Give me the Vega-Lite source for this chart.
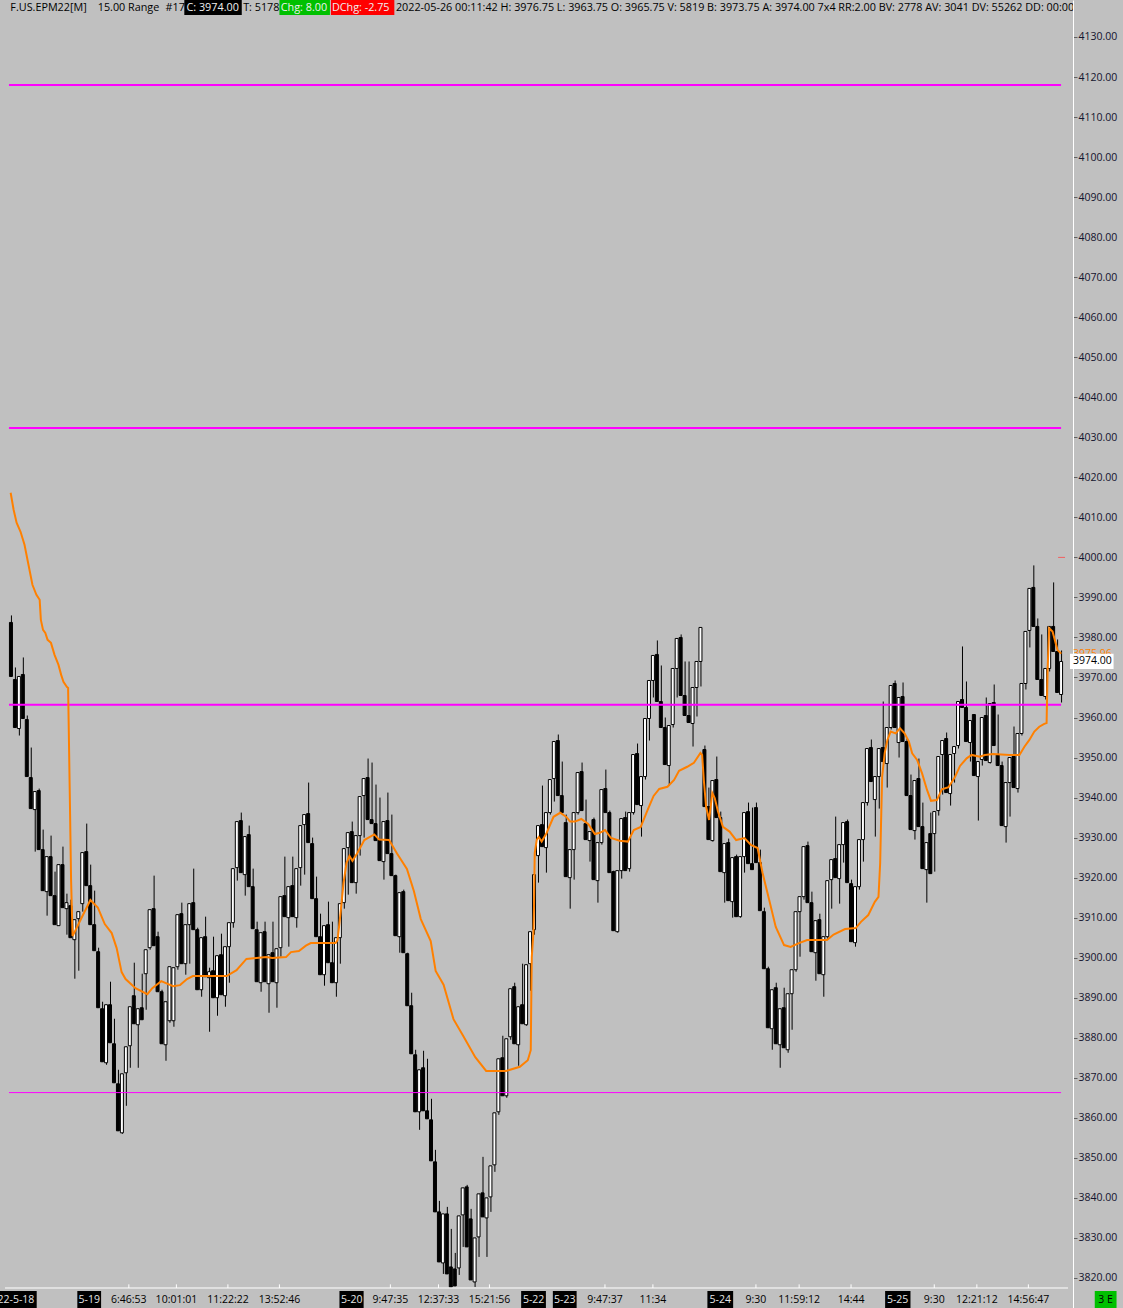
{
  "$schema": "https://vega.github.io/schema/vega-lite/v6.json",
  "width": 1073,
  "height": 1308,
  "autosize": {"type": "none"},
  "padding": {"left": 0, "top": 0, "right": 50, "bottom": 0},
  "background": "#c0c0c0",
  "config": {
    "view": {"stroke": null},
    "axisY": {
      "tickCount": 32, "grid": false, "labelFont": "Open Sans", "labelFontSize": 10.5, "labelColor": "#14142e",
      "labelPadding": 1, "tickSize": 4, "tickColor": "#606060", "domainColor": "#ffffff", "domainWidth": 1,
      "labelOverlap": false, "labelBound": false, "labelAlign": "left", "labelBaseline": "middle"
    }
  },
  "datasets": {
    "bars": [
      {"i":0,"o":3983.75,"h":3985.5,"l":3970.25,"c":3970.25},
      {"i":1,"o":3969.5,"h":3972.5,"l":3957.5,"c":3957.5},
      {"i":2,"o":3957.25,"h":3970.25,"l":3955.5,"c":3970.25},
      {"i":3,"o":3970.75,"h":3975,"l":3959.75,"c":3959.75},
      {"i":4,"o":3959.5,"h":3960.5,"l":3945.25,"c":3945.25},
      {"i":5,"o":3945,"h":3952.5,"l":3937.25,"c":3937.25},
      {"i":6,"o":3937,"h":3941.5,"l":3926.5,"c":3941.5},
      {"i":7,"o":3941.75,"h":3942.25,"l":3927,"c":3927},
      {"i":8,"o":3927,"h":3932,"l":3916.75,"c":3916.75},
      {"i":9,"o":3916.5,"h":3925.25,"l":3910.5,"c":3925.25},
      {"i":10,"o":3925.25,"h":3930.5,"l":3915.5,"c":3915.5},
      {"i":11,"o":3915.5,"h":3921.5,"l":3908.25,"c":3908.25},
      {"i":12,"o":3908,"h":3923.25,"l":3908,"c":3923.25},
      {"i":13,"o":3923.25,"h":3927.75,"l":3912.5,"c":3912.5},
      {"i":14,"o":3912.25,"h":3916,"l":3905.75,"c":3913.75},
      {"i":15,"o":3913,"h":3914.5,"l":3905,"c":3905},
      {"i":16,"o":3904.5,"h":3909.5,"l":3894.75,"c":3909.5},
      {"i":17,"o":3909.75,"h":3911.5,"l":3896.75,"c":3911.5},
      {"i":18,"o":3913.5,"h":3926.25,"l":3911.5,"c":3926.25},
      {"i":19,"o":3926.5,"h":3933.5,"l":3918,"c":3918},
      {"i":20,"o":3918,"h":3923.25,"l":3908.25,"c":3908.25},
      {"i":21,"o":3908.25,"h":3916.75,"l":3901.75,"c":3901.75},
      {"i":22,"o":3901.5,"h":3902.5,"l":3887.5,"c":3887.5},
      {"i":23,"o":3887.25,"h":3889,"l":3874,"c":3874},
      {"i":24,"o":3873.75,"h":3888.25,"l":3873.25,"c":3888.25},
      {"i":25,"o":3888.25,"h":3894,"l":3878.75,"c":3878.75},
      {"i":26,"o":3878.5,"h":3884.75,"l":3868.75,"c":3868.75},
      {"i":27,"o":3868.5,"h":3872,"l":3856.75,"c":3856.75},
      {"i":28,"o":3856.25,"h":3871,"l":3856,"c":3871},
      {"i":29,"o":3871.25,"h":3877.75,"l":3863,"c":3877.75},
      {"i":30,"o":3878,"h":3887.75,"l":3872.5,"c":3887.75},
      {"i":31,"o":3890.5,"h":3898.75,"l":3883.5,"c":3883.5},
      {"i":32,"o":3883.25,"h":3887.25,"l":3872.5,"c":3887.25},
      {"i":33,"o":3887.5,"h":3896,"l":3884.5,"c":3884.5},
      {"i":34,"o":3896,"h":3902,"l":3887,"c":3902},
      {"i":35,"o":3902.5,"h":3912,"l":3902,"c":3912},
      {"i":36,"o":3912.25,"h":3920.5,"l":3903,"c":3903},
      {"i":37,"o":3905.25,"h":3906.5,"l":3891.5,"c":3891.5},
      {"i":38,"o":3891.5,"h":3892,"l":3878.5,"c":3878.5},
      {"i":39,"o":3878.25,"h":3889,"l":3874.25,"c":3889},
      {"i":40,"o":3884.25,"h":3897.75,"l":3883.75,"c":3897.75},
      {"i":41,"o":3884.25,"h":3897.5,"l":3882.75,"c":3897.5},
      {"i":42,"o":3897.75,"h":3910.75,"l":3897,"c":3910.75},
      {"i":43,"o":3911,"h":3913.75,"l":3898.5,"c":3898.5},
      {"i":44,"o":3898.5,"h":3908.25,"l":3895.75,"c":3908.25},
      {"i":45,"o":3908.25,"h":3913.5,"l":3898.5,"c":3913.5},
      {"i":46,"o":3913.75,"h":3922.25,"l":3907,"c":3907},
      {"i":47,"o":3907,"h":3907.5,"l":3892,"c":3892},
      {"i":48,"o":3892,"h":3905,"l":3890.25,"c":3905},
      {"i":49,"o":3905.25,"h":3910.25,"l":3895.25,"c":3895.25},
      {"i":50,"o":3895,"h":3897.5,"l":3881.5,"c":3896.5},
      {"i":51,"o":3896.75,"h":3905.25,"l":3890,"c":3890},
      {"i":52,"o":3890,"h":3900.5,"l":3885.5,"c":3900.5},
      {"i":53,"o":3900.75,"h":3906,"l":3890.75,"c":3890.75},
      {"i":54,"o":3890.5,"h":3902.75,"l":3887.75,"c":3902.75},
      {"i":55,"o":3902.75,"h":3908.75,"l":3893.75,"c":3908.75},
      {"i":56,"o":3908.75,"h":3922.25,"l":3907.5,"c":3922.25},
      {"i":57,"o":3922.5,"h":3934,"l":3919.25,"c":3934},
      {"i":58,"o":3934.25,"h":3936.25,"l":3921.25,"c":3921.25},
      {"i":59,"o":3920.75,"h":3930.25,"l":3915.5,"c":3930.25},
      {"i":60,"o":3930.75,"h":3933,"l":3917.75,"c":3917.75},
      {"i":61,"o":3917.75,"h":3922.25,"l":3907.25,"c":3907.25},
      {"i":62,"o":3907,"h":3909,"l":3894,"c":3894},
      {"i":63,"o":3893.75,"h":3906.25,"l":3891.5,"c":3906.25},
      {"i":64,"o":3906.5,"h":3909,"l":3894,"c":3894},
      {"i":65,"o":3893.5,"h":3900.75,"l":3886.25,"c":3900.75},
      {"i":66,"o":3901.25,"h":3909,"l":3894,"c":3894},
      {"i":67,"o":3893.75,"h":3902.25,"l":3887.5,"c":3902.25},
      {"i":68,"o":3902.5,"h":3915.25,"l":3900.25,"c":3915.25},
      {"i":69,"o":3915.5,"h":3925.25,"l":3910.25,"c":3910.25},
      {"i":70,"o":3910,"h":3917.75,"l":3902.75,"c":3917.75},
      {"i":71,"o":3918,"h":3925.25,"l":3910.25,"c":3910.25},
      {"i":72,"o":3910,"h":3922.25,"l":3907.5,"c":3922.25},
      {"i":73,"o":3922.5,"h":3933,"l":3918,"c":3933},
      {"i":74,"o":3933.25,"h":3935.75,"l":3920.75,"c":3935.75},
      {"i":75,"o":3936,"h":3943.75,"l":3928.75,"c":3928.75},
      {"i":76,"o":3928.5,"h":3930,"l":3914.75,"c":3914.75},
      {"i":77,"o":3914.75,"h":3920.25,"l":3905.25,"c":3905.25},
      {"i":78,"o":3905.25,"h":3911,"l":3895.75,"c":3895.75},
      {"i":79,"o":3895.75,"h":3908,"l":3893,"c":3908},
      {"i":80,"o":3908.25,"h":3914,"l":3898.75,"c":3898.75},
      {"i":81,"o":3898.75,"h":3909,"l":3893.75,"c":3893.75},
      {"i":82,"o":3893.75,"h":3905,"l":3890.25,"c":3905},
      {"i":83,"o":3905,"h":3913.5,"l":3898.5,"c":3913.5},
      {"i":84,"o":3913.75,"h":3927.25,"l":3912.25,"c":3927.25},
      {"i":85,"o":3927.5,"h":3931.25,"l":3915.75,"c":3931.25},
      {"i":86,"o":3931.5,"h":3934,"l":3918.75,"c":3918.75},
      {"i":87,"o":3918.75,"h":3930.5,"l":3916,"c":3930.5},
      {"i":88,"o":3930.5,"h":3940.25,"l":3925.5,"c":3940.25},
      {"i":89,"o":3940.5,"h":3944.75,"l":3930,"c":3944.75},
      {"i":90,"o":3945,"h":3949.75,"l":3934.5,"c":3934.5},
      {"i":91,"o":3934.5,"h":3948.75,"l":3933.5,"c":3933.5},
      {"i":92,"o":3933.5,"h":3943.25,"l":3929.25,"c":3929.25},
      {"i":93,"o":3929.5,"h":3940,"l":3924.25,"c":3924.25},
      {"i":94,"o":3924,"h":3934,"l":3919.5,"c":3934},
      {"i":95,"o":3934.25,"h":3941.25,"l":3926,"c":3926},
      {"i":96,"o":3926,"h":3935.75,"l":3920.5,"c":3920.5},
      {"i":97,"o":3920.5,"h":3920.75,"l":3905.5,"c":3905.5},
      {"i":98,"o":3905.25,"h":3916.25,"l":3901.25,"c":3916.25},
      {"i":99,"o":3916.5,"h":3917,"l":3901.25,"c":3901.25},
      {"i":100,"o":3901,"h":3901.25,"l":3888,"c":3888},
      {"i":101,"o":3888,"h":3891.25,"l":3876,"c":3876},
      {"i":102,"o":3875.75,"h":3877,"l":3861.5,"c":3861.5},
      {"i":103,"o":3861.5,"h":3872,"l":3857,"c":3872},
      {"i":104,"o":3872.5,"h":3876.75,"l":3861.75,"c":3861.75},
      {"i":105,"o":3861.75,"h":3874.75,"l":3859.75,"c":3859.75},
      {"i":106,"o":3859.5,"h":3864.75,"l":3849.25,"c":3849.25},
      {"i":107,"o":3849,"h":3852,"l":3836.5,"c":3836.5},
      {"i":108,"o":3836.5,"h":3839.25,"l":3824,"c":3824},
      {"i":109,"o":3823.75,"h":3836,"l":3821,"c":3836},
      {"i":110,"o":3836,"h":3837.75,"l":3821,"c":3821},
      {"i":111,"o":3822.75,"h":3832.25,"l":3817.75,"c":3817.75},
      {"i":112,"o":3822.25,"h":3826.25,"l":3818,"c":3818},
      {"i":113,"o":3822.5,"h":3835.5,"l":3820.75,"c":3835.5},
      {"i":114,"o":3835.75,"h":3842.5,"l":3827.75,"c":3842.5},
      {"i":115,"o":3842.75,"h":3843.25,"l":3827.75,"c":3827.75},
      {"i":116,"o":3834.75,"h":3837.25,"l":3819.5,"c":3819.5},
      {"i":117,"o":3819,"h":3830,"l":3817.75,"c":3830},
      {"i":118,"o":3830.25,"h":3841,"l":3825.25,"c":3841},
      {"i":119,"o":3841.25,"h":3850.25,"l":3835.25,"c":3835.25},
      {"i":120,"o":3835,"h":3840,"l":3825.25,"c":3840},
      {"i":121,"o":3840.25,"h":3848,"l":3836.5,"c":3848},
      {"i":122,"o":3848.25,"h":3861.25,"l":3846.5,"c":3861.25},
      {"i":123,"o":3861.5,"h":3874.75,"l":3860.75,"c":3874.75},
      {"i":124,"o":3875,"h":3880.5,"l":3865.5,"c":3865.5},
      {"i":125,"o":3865.5,"h":3879.75,"l":3865,"c":3879.75},
      {"i":126,"o":3880.25,"h":3892.25,"l":3879.5,"c":3892.25},
      {"i":127,"o":3892.75,"h":3893.75,"l":3878.5,"c":3878.5},
      {"i":128,"o":3878.25,"h":3887.75,"l":3873,"c":3887.75},
      {"i":129,"o":3888.25,"h":3898.5,"l":3883.5,"c":3883.5},
      {"i":130,"o":3883.25,"h":3898.25,"l":3883,"c":3898.25},
      {"i":131,"o":3898.5,"h":3906.5,"l":3891.75,"c":3906.5},
      {"i":132,"o":3907,"h":3920.75,"l":3905.75,"c":3920.75},
      {"i":133,"o":3925.5,"h":3933,"l":3918.75,"c":3933},
      {"i":134,"o":3933.25,"h":3943,"l":3927.75,"c":3927.75},
      {"i":135,"o":3927.5,"h":3936.25,"l":3921.25,"c":3936.25},
      {"i":136,"o":3936.25,"h":3944.5,"l":3935.75,"c":3944.5},
      {"i":137,"o":3944.75,"h":3954,"l":3939,"c":3954},
      {"i":138,"o":3954.25,"h":3955.75,"l":3940.5,"c":3940.5},
      {"i":139,"o":3940.5,"h":3949,"l":3936.25,"c":3936.25},
      {"i":140,"o":3933.75,"h":3935.75,"l":3920.25,"c":3920.25},
      {"i":141,"o":3920,"h":3927,"l":3912.25,"c":3927},
      {"i":142,"o":3927,"h":3936.25,"l":3919.5,"c":3936.25},
      {"i":143,"o":3936.25,"h":3946.25,"l":3935.75,"c":3946.25},
      {"i":144,"o":3946.5,"h":3948.75,"l":3936.75,"c":3936.75},
      {"i":145,"o":3933.5,"h":3939.5,"l":3929.5,"c":3929.5},
      {"i":146,"o":3929.25,"h":3931.5,"l":3924,"c":3931.5},
      {"i":147,"o":3934.5,"h":3935,"l":3919.5,"c":3919.5},
      {"i":148,"o":3919.25,"h":3928.75,"l":3913.75,"c":3928.75},
      {"i":149,"o":3928.75,"h":3942,"l":3928.25,"c":3942},
      {"i":150,"o":3942.25,"h":3947,"l":3936.25,"c":3936.25},
      {"i":151,"o":3936.25,"h":3936.75,"l":3921.25,"c":3921.25},
      {"i":152,"o":3921.5,"h":3921.75,"l":3906.75,"c":3906.75},
      {"i":153,"o":3906.5,"h":3921.75,"l":3906.25,"c":3921.75},
      {"i":154,"o":3921.75,"h":3934.75,"l":3919.75,"c":3934.75},
      {"i":155,"o":3935,"h":3936.5,"l":3921.75,"c":3921.75},
      {"i":156,"o":3922.25,"h":3936.25,"l":3921.5,"c":3936.25},
      {"i":157,"o":3936.25,"h":3950.75,"l":3935.75,"c":3950.75},
      {"i":158,"o":3951,"h":3953.5,"l":3938.25,"c":3938.25},
      {"i":159,"o":3938,"h":3945.25,"l":3930.25,"c":3945.25},
      {"i":160,"o":3945.25,"h":3959.75,"l":3944.5,"c":3959.75},
      {"i":161,"o":3959.75,"h":3969.25,"l":3954.25,"c":3969.25},
      {"i":162,"o":3969.25,"h":3975.5,"l":3965,"c":3975.5},
      {"i":163,"o":3975.75,"h":3979.25,"l":3964,"c":3964},
      {"i":164,"o":3964,"h":3973,"l":3957.5,"c":3957.5},
      {"i":165,"o":3957.5,"h":3960,"l":3948.25,"c":3948.25},
      {"i":166,"o":3948,"h":3958,"l":3943,"c":3958},
      {"i":167,"o":3958.25,"h":3972.25,"l":3957.5,"c":3972.25},
      {"i":168,"o":3972.25,"h":3979.75,"l":3965,"c":3979.75},
      {"i":169,"o":3980,"h":3980.75,"l":3965.5,"c":3965.5},
      {"i":170,"o":3965.5,"h":3974,"l":3960.5,"c":3960.5},
      {"i":171,"o":3960.5,"h":3974,"l":3958.75,"c":3958.75},
      {"i":172,"o":3958.5,"h":3967.5,"l":3952.75,"c":3967.5},
      {"i":173,"o":3967.5,"h":3974,"l":3960.25,"c":3974},
      {"i":174,"o":3974,"h":3982.5,"l":3967.75,"c":3982.5},
      {"i":175,"o":3952,"h":3953,"l":3937.75,"c":3937.75},
      {"i":176,"o":3937.75,"h":3942.5,"l":3929.5,"c":3929.5},
      {"i":177,"o":3929.25,"h":3944.25,"l":3929,"c":3944.25},
      {"i":178,"o":3944.5,"h":3950.25,"l":3935,"c":3935},
      {"i":179,"o":3935,"h":3936.5,"l":3921.5,"c":3921.5},
      {"i":180,"o":3921.25,"h":3928.5,"l":3913.75,"c":3928.5},
      {"i":181,"o":3928.75,"h":3929.75,"l":3914.25,"c":3914.25},
      {"i":182,"o":3914,"h":3925,"l":3910,"c":3925},
      {"i":183,"o":3925.25,"h":3925.75,"l":3910.25,"c":3910.25},
      {"i":184,"o":3910.25,"h":3925.25,"l":3910,"c":3925.25},
      {"i":185,"o":3925.25,"h":3936.25,"l":3921.25,"c":3936.25},
      {"i":186,"o":3936.5,"h":3938.75,"l":3923.5,"c":3923.5},
      {"i":187,"o":3923.5,"h":3937.5,"l":3922,"c":3922},
      {"i":188,"o":3937.5,"h":3938.75,"l":3923.75,"c":3923.75},
      {"i":189,"o":3923.75,"h":3927,"l":3911.75,"c":3911.75},
      {"i":190,"o":3911.5,"h":3912.5,"l":3897.25,"c":3897.25},
      {"i":191,"o":3897.25,"h":3897.75,"l":3882.5,"c":3882.5},
      {"i":192,"o":3882.25,"h":3892,"l":3877,"c":3892},
      {"i":193,"o":3892.5,"h":3893.75,"l":3878.5,"c":3878.5},
      {"i":194,"o":3878.25,"h":3887.25,"l":3872.5,"c":3887.25},
      {"i":195,"o":3887.5,"h":3892.5,"l":3877.5,"c":3877.5},
      {"i":196,"o":3877,"h":3891,"l":3876.25,"c":3891},
      {"i":197,"o":3891,"h":3897,"l":3882,"c":3897},
      {"i":198,"o":3897,"h":3911.5,"l":3896.5,"c":3911.5},
      {"i":199,"o":3911.5,"h":3915.25,"l":3900.25,"c":3915.25},
      {"i":200,"o":3915.25,"h":3927.75,"l":3914.5,"c":3927.75},
      {"i":201,"o":3928,"h":3929,"l":3913.75,"c":3913.75},
      {"i":202,"o":3913.75,"h":3916.5,"l":3901.5,"c":3901.5},
      {"i":203,"o":3901.25,"h":3909.25,"l":3894.25,"c":3909.25},
      {"i":204,"o":3909.5,"h":3911,"l":3896,"c":3896},
      {"i":205,"o":3895.75,"h":3905.25,"l":3890.25,"c":3905.25},
      {"i":206,"o":3905.25,"h":3919.25,"l":3904.5,"c":3919.25},
      {"i":207,"o":3919.5,"h":3924.5,"l":3912.25,"c":3924.5},
      {"i":208,"o":3924.75,"h":3935.25,"l":3920,"c":3920},
      {"i":209,"o":3919.75,"h":3928.25,"l":3913.5,"c":3928.25},
      {"i":210,"o":3928.25,"h":3933.75,"l":3923.75,"c":3933.75},
      {"i":211,"o":3934,"h":3934.5,"l":3918.75,"c":3918.75},
      {"i":212,"o":3918.5,"h":3919.5,"l":3904,"c":3904},
      {"i":213,"o":3903.75,"h":3917.75,"l":3902.75,"c":3917.75},
      {"i":214,"o":3917.75,"h":3929.5,"l":3917,"c":3929.5},
      {"i":215,"o":3929.5,"h":3938.75,"l":3924,"c":3938.75},
      {"i":216,"o":3938.75,"h":3952.25,"l":3938,"c":3952.25},
      {"i":217,"o":3952.5,"h":3954.5,"l":3944,"c":3944},
      {"i":218,"o":3939.5,"h":3945.25,"l":3930.25,"c":3945.25},
      {"i":219,"o":3945.25,"h":3952.25,"l":3937.25,"c":3952.25},
      {"i":220,"o":3952.5,"h":3964,"l":3949,"c":3949},
      {"i":221,"o":3948.5,"h":3957.5,"l":3942.5,"c":3957.5},
      {"i":222,"o":3957.5,"h":3968,"l":3957,"c":3968},
      {"i":223,"o":3968.5,"h":3969.25,"l":3957.5,"c":3957.5},
      {"i":224,"o":3953.75,"h":3965,"l":3950,"c":3965},
      {"i":225,"o":3965.25,"h":3968.75,"l":3954,"c":3954},
      {"i":226,"o":3954,"h":3954.75,"l":3940.5,"c":3940.5},
      {"i":227,"o":3940.5,"h":3945.75,"l":3932,"c":3932},
      {"i":228,"o":3931.75,"h":3944.25,"l":3929.5,"c":3944.25},
      {"i":229,"o":3944.75,"h":3949.75,"l":3932.75,"c":3932.75},
      {"i":230,"o":3932.75,"h":3938.75,"l":3922.25,"c":3922.25},
      {"i":231,"o":3922,"h":3928.75,"l":3913.75,"c":3928.75},
      {"i":232,"o":3931,"h":3936.25,"l":3921,"c":3921},
      {"i":233,"o":3931,"h":3936.5,"l":3921.5,"c":3936.5},
      {"i":234,"o":3936.75,"h":3950.25,"l":3935.5,"c":3950.25},
      {"i":235,"o":3950.75,"h":3954.25,"l":3940.75,"c":3954.25},
      {"i":236,"o":3954.75,"h":3956.25,"l":3941.25,"c":3941.25},
      {"i":237,"o":3941,"h":3950.75,"l":3938,"c":3950.75},
      {"i":238,"o":3951,"h":3952.75,"l":3943.75,"c":3952.75},
      {"i":239,"o":3953,"h":3964,"l":3952.25,"c":3964},
      {"i":240,"o":3964.5,"h":3977.75,"l":3962.5,"c":3962.5},
      {"i":241,"o":3962.5,"h":3969,"l":3954,"c":3954},
      {"i":242,"o":3953.75,"h":3959.25,"l":3949,"c":3959.25},
      {"i":243,"o":3960.75,"h":3960.75,"l":3945.5,"c":3945.5},
      {"i":244,"o":3945.25,"h":3949,"l":3934.25,"c":3949},
      {"i":245,"o":3949.5,"h":3960,"l":3948,"c":3960},
      {"i":246,"o":3960.5,"h":3965,"l":3949.25,"c":3949.25},
      {"i":247,"o":3948.75,"h":3963.5,"l":3948.5,"c":3963.5},
      {"i":248,"o":3963.75,"h":3968.25,"l":3953,"c":3953},
      {"i":249,"o":3950.75,"h":3960.75,"l":3948,"c":3948},
      {"i":250,"o":3948,"h":3949,"l":3933,"c":3933},
      {"i":251,"o":3932.75,"h":3943.75,"l":3928.75,"c":3943.75},
      {"i":252,"o":3943.75,"h":3950,"l":3935.25,"c":3950},
      {"i":253,"o":3950.25,"h":3957.75,"l":3942.5,"c":3942.5},
      {"i":254,"o":3942.25,"h":3956,"l":3941.25,"c":3956},
      {"i":255,"o":3956,"h":3968.5,"l":3955.5,"c":3968.5},
      {"i":256,"o":3968.5,"h":3981.5,"l":3967,"c":3981.5},
      {"i":257,"o":3981.75,"h":3992.25,"l":3977.5,"c":3992.25},
      {"i":258,"o":3992.5,"h":3998,"l":3982.75,"c":3982.75},
      {"i":259,"o":3982.75,"h":3984.75,"l":3969.5,"c":3969.5},
      {"i":260,"o":3969.5,"h":3980.75,"l":3965.5,"c":3965.5},
      {"i":261,"o":3965.25,"h":3972.25,"l":3964.5,"c":3972.25},
      {"i":262,"o":3972.25,"h":3982.75,"l":3971.5,"c":3982.75},
      {"i":263,"o":3982.75,"h":3993.75,"l":3976.5,"c":3976.5},
      {"i":264,"o":3976.5,"h":3979.5,"l":3966.25,"c":3966.25},
      {"i":265,"o":3965.75,"h":3976.75,"l":3963.75,"c":3974}
    ],
    "ma": [
      {"i":-0.075,"v":4016.15},{"i":0.675,"v":4011.9},{"i":1.425,"v":4008.65},{"i":2.425,"v":4006.4},
      {"i":3.425,"v":4003.15},{"i":4.425,"v":3998.15},{"i":5.425,"v":3993.15},{"i":6.425,"v":3990.65},
      {"i":7.25,"v":3989.4},{"i":7.55,"v":3984.4},{"i":8.1,"v":3981.9},{"i":8.675,"v":3981.15},
      {"i":9.25,"v":3979.4},{"i":10.1,"v":3978.65},{"i":11.0,"v":3975.65},{"i":12.0,"v":3973.15},
      {"i":12.675,"v":3970.65},{"i":13.25,"v":3968.9},{"i":14.1,"v":3967.65},{"i":14.425,"v":3967.4},
      {"i":14.675,"v":3951.9},{"i":14.925,"v":3935.9},{"i":15.175,"v":3919.4},{"i":15.55,"v":3905.4},
      {"i":17.675,"v":3909.65},{"i":20.05,"v":3914.4},{"i":21.925,"v":3912.5},{"i":23.675,"v":3908.4},
      {"i":25.425,"v":3906.15},{"i":26.675,"v":3902.4},{"i":27.925,"v":3896.4},{"i":28.925,"v":3894.65},
      {"i":31.425,"v":3892.4},{"i":34.425,"v":3890.9},{"i":35.675,"v":3892.4},{"i":37.925,"v":3894.15},
      {"i":40.925,"v":3892.9},{"i":42.675,"v":3893.15},{"i":44.425,"v":3894.65},{"i":45.925,"v":3895.4},
      {"i":54.425,"v":3895.4},{"i":56.925,"v":3896.9},{"i":59.425,"v":3899.7},{"i":64.425,"v":3900.2},
      {"i":65.925,"v":3899.9},{"i":69.425,"v":3900.15},{"i":70.675,"v":3901.4},{"i":72.675,"v":3901.65},
      {"i":74.425,"v":3903},{"i":75.675,"v":3903.65},{"i":81.925,"v":3903.65},{"i":82.425,"v":3904.4},
      {"i":83.175,"v":3911.15},{"i":83.925,"v":3918.65},{"i":84.675,"v":3923.65},{"i":85.425,"v":3925.4},
      {"i":86.175,"v":3924.2},{"i":87.425,"v":3926.15},{"i":89.175,"v":3929.4},{"i":91.675,"v":3930.8},
      {"i":92.925,"v":3929.5},{"i":95.425,"v":3929.4},{"i":97.425,"v":3926.05},{"i":99.925,"v":3922.15},
      {"i":101.675,"v":3916.65},{"i":103.425,"v":3909.65},{"i":105.925,"v":3904.15},{"i":107.175,"v":3896.7},
      {"i":109.175,"v":3893.25},{"i":111.675,"v":3884.65},{"i":114.175,"v":3880.4},{"i":117.175,"v":3875.15},
      {"i":119.925,"v":3871.7},{"i":124.925,"v":3871.7},{"i":128.425,"v":3872.75},{"i":130.425,"v":3874.4},
      {"i":131.175,"v":3876.9},{"i":131.425,"v":3900.15},{"i":131.85,"v":3906.15},{"i":132.0,"v":3913.15},
      {"i":132.175,"v":3926.15},{"i":132.675,"v":3929.4},{"i":133.175,"v":3930.15},{"i":133.925,"v":3929},
      {"i":135.175,"v":3931.15},{"i":136.925,"v":3935.2},{"i":138.6,"v":3936.2},{"i":140.175,"v":3935.15},
      {"i":141.1,"v":3934},{"i":142.35,"v":3934},{"i":143.925,"v":3934.65},{"i":145.675,"v":3933.4},
      {"i":147.35,"v":3930.9},{"i":148.6,"v":3931.2},{"i":149.925,"v":3931.9},{"i":151.425,"v":3929.9},
      {"i":153.6,"v":3929.2},{"i":155.675,"v":3929},{"i":157.175,"v":3931.9},{"i":158.925,"v":3932.65},
      {"i":160.675,"v":3936.9},{"i":162.175,"v":3940.4},{"i":163.6,"v":3942.15},{"i":165.675,"v":3942.7},
      {"i":167.35,"v":3944.4},{"i":168.6,"v":3946.7},{"i":170.675,"v":3947.7},{"i":172.35,"v":3948.7},
      {"i":174.0,"v":3951.15},{"i":174.425,"v":3950.65},{"i":174.85,"v":3944.4},{"i":175.425,"v":3937.7},
      {"i":176.175,"v":3934.4},{"i":177.0,"v":3941.15},{"i":177.6,"v":3939.9},{"i":178.425,"v":3936.5},
      {"i":179.675,"v":3932.7},{"i":181.35,"v":3931.5},{"i":183.0,"v":3929.4},{"i":185.1,"v":3929.9},
      {"i":186.75,"v":3928.15},{"i":188.425,"v":3927.4},{"i":189.675,"v":3921.15},{"i":191.35,"v":3914.4},
      {"i":193.0,"v":3907.7},{"i":195.1,"v":3903.15},{"i":196.75,"v":3902.7},{"i":198.85,"v":3903.65},
      {"i":200.925,"v":3904.4},{"i":205.925,"v":3904.4},{"i":207.6,"v":3905.8},{"i":210.5,"v":3907.15},
      {"i":213.175,"v":3907.4},{"i":214.5,"v":3908.95},{"i":216.35,"v":3910.65},{"i":218.0,"v":3913.95},
      {"i":218.925,"v":3915.2},{"i":219.35,"v":3923.65},{"i":219.55,"v":3932.7},{"i":219.85,"v":3945.2},
      {"i":220.5,"v":3951.15},{"i":221.175,"v":3954.4},{"i":222.0,"v":3956.5},{"i":223.25,"v":3956.05},
      {"i":224.35,"v":3957.3},{"i":225.5,"v":3956.05},{"i":226.6,"v":3954},{"i":227.425,"v":3951.05},
      {"i":228.675,"v":3949.4},{"i":229.925,"v":3946.05},{"i":231.175,"v":3941.9},{"i":232.175,"v":3939.2},
      {"i":233.675,"v":3939.4},{"i":234.925,"v":3942.05},{"i":236.6,"v":3942.6},{"i":238.25,"v":3945.2},
      {"i":239.5,"v":3947.9},{"i":241.175,"v":3949.8},{"i":242.425,"v":3950.65},{"i":244.5,"v":3950.2},
      {"i":245.75,"v":3950.65},{"i":247.85,"v":3950.9},{"i":252.0,"v":3950.65},{"i":254.5,"v":3950.65},
      {"i":255.75,"v":3952.7},{"i":257.0,"v":3954.4},{"i":258.25,"v":3956.5},{"i":259.5,"v":3957.7},
      {"i":260.75,"v":3958.4},{"i":261.35,"v":3958.6},{"i":261.6,"v":3971.9},{"i":262.0,"v":3982.3},
      {"i":262.85,"v":3981.5},{"i":264.1,"v":3976.9},{"i":265.05,"v":3975.96}
    ],
    "levels": [
      {"p":4118.0,"a":-0.5,"b":265,"kind":"major"},
      {"p":4032.3,"a":-0.5,"b":265,"kind":"major"},
      {"p":3963.2,"a":-0.5,"b":265,"kind":"major"},
      {"p":3866.3,"a":-0.5,"b":265,"kind":"minor"}
    ],
    "header": [
      {"pos":-0.15,"label":"F.US.EPM22[M]","kind":"plain"},
      {"pos":21.9,"label":"15.00 Range","kind":"plain"},
      {"pos":39,"label":"#17","kind":"plain"},
      {"pos":44.3,"label":"C: 3974.00","kind":"inv"},
      {"pos":58.6,"label":"T: 5178","kind":"plain"},
      {"pos":68.1,"label":"Chg: 8.00","kind":"inv"},
      {"pos":81,"label":"DChg: -2.75","kind":"inv"},
      {"pos":97.15,"label":"2022-05-26 00:11:42 H: 3976.75 L: 3963.75 O: 3965.75 V: 5819 B: 3973.75 A: 3974.00 7x4 RR:2.00 BV: 2778 AV: 3041 DV: 55262 DD: 00:00","kind":"plain"}
    ],
    "headerBoxes": [
      {"a":43.75,"b":58.25,"kind":"last"},
      {"a":67.75,"b":80.5,"kind":"chg"},
      {"a":80.75,"b":96.75,"kind":"dchg"}
    ],
    "timeLabels": [
      {"pos":-0.25,"label":"2022-5-18","kind":"day"},
      {"pos":19.75,"label":"5-19","kind":"day"},
      {"pos":29.75,"label":"6:46:53","kind":"time"},
      {"pos":41.75,"label":"10:01:01","kind":"time"},
      {"pos":54.75,"label":"11:22:22","kind":"time"},
      {"pos":67.75,"label":"13:52:46","kind":"time"},
      {"pos":86,"label":"5-20","kind":"day"},
      {"pos":95.75,"label":"9:47:35","kind":"time"},
      {"pos":107.9,"label":"12:37:33","kind":"time"},
      {"pos":120.75,"label":"15:21:56","kind":"time"},
      {"pos":131.9,"label":"5-22","kind":"day"},
      {"pos":139.75,"label":"5-23","kind":"day"},
      {"pos":149.9,"label":"9:47:37","kind":"time"},
      {"pos":162,"label":"11:34","kind":"time"},
      {"pos":179,"label":"5-24","kind":"day"},
      {"pos":188,"label":"9:30","kind":"time"},
      {"pos":198.9,"label":"11:59:12","kind":"time"},
      {"pos":212,"label":"14:44","kind":"time"},
      {"pos":223.75,"label":"5-25","kind":"day"},
      {"pos":233,"label":"9:30","kind":"time"},
      {"pos":243.75,"label":"12:21:12","kind":"time"},
      {"pos":256.75,"label":"14:56:47","kind":"time"},
      {"pos":276.25,"label":"3 E","kind":"status"}
    ],
    "timeBoxes": [
      {"a":-7,"b":6.5,"kind":"day"},
      {"a":16.75,"b":22.75,"kind":"day"},
      {"a":82.9,"b":89,"kind":"day"},
      {"a":128.75,"b":135,"kind":"day"},
      {"a":136.75,"b":142.75,"kind":"day"},
      {"a":175.75,"b":182.25,"kind":"day"},
      {"a":220.6,"b":227,"kind":"day"},
      {"a":273.5,"b":279,"kind":"status"}
    ]
  },
  "layer": [
    {
      "data": {"name": "bars"},
      "mark": {"type": "rule", "color": "#000000", "strokeWidth": 1, "xOffset": 0.5},
      "encoding": {
        "x": {"field": "i", "type": "quantitative", "scale": {"domain": [-1.5, 266.75], "nice": false, "zero": false}, "axis": null},
        "y": {"field": "l", "type": "quantitative", "scale": {"domain": [3812.49, 4139.243], "nice": false, "zero": false}, "axis": {"orient": "right", "title": null, "format": ".2f"}},
        "y2": {"field": "h"}
      }
    },
    {
      "data": {"name": "bars"},
      "mark": {"type": "bar", "width": 3, "stroke": "#000000", "strokeWidth": 1},
      "encoding": {
        "x": {"field": "i", "type": "quantitative", "scale": {"domain": [-1.5, 266.75], "nice": false, "zero": false}, "axis": null},
        "y": {"field": "o", "type": "quantitative", "scale": {"domain": [3812.49, 4139.243], "nice": false, "zero": false}, "axis": {"orient": "right", "title": null, "format": ".2f"}},
        "y2": {"field": "c"},
        "fill": {"condition": {"test": "datum.c > datum.o", "value": "#ffffff"}, "value": "#000000"}
      }
    },
    {
      "data": {"name": "levels"},
      "mark": {"type": "rule", "color": "#ff00ff"},
      "encoding": {
        "x": {"field": "a", "type": "quantitative", "scale": {"domain": [-1.5, 266.75], "nice": false, "zero": false}, "axis": null},
        "x2": {"field": "b"},
        "y": {"field": "p", "type": "quantitative", "scale": {"domain": [3812.49, 4139.243], "nice": false, "zero": false}, "axis": {"orient": "right", "title": null, "format": ".2f"}},
        "strokeWidth": {"condition": {"test": "datum.kind == 'major'", "value": 2}, "value": 1}
      }
    },
    {
      "data": {"name": "ma"},
      "mark": {"type": "line", "color": "#ff8000", "strokeWidth": 2},
      "encoding": {
        "x": {"field": "i", "type": "quantitative", "scale": {"domain": [-1.5, 266.75], "nice": false, "zero": false}, "axis": null},
        "y": {"field": "v", "type": "quantitative", "scale": {"domain": [3812.49, 4139.243], "nice": false, "zero": false}, "axis": {"orient": "right", "title": null, "format": ".2f"}}
      }
    },
    {
      "data": {"values": [{"p": 4000, "a": 264.25, "b": 266}]},
      "mark": {"type": "rule", "color": "#f06060", "strokeWidth": 1},
      "encoding": {
        "x": {"field": "a", "type": "quantitative", "scale": {"domain": [-1.5, 266.75], "nice": false, "zero": false}, "axis": null},
        "x2": {"field": "b"},
        "y": {"field": "p", "type": "quantitative", "scale": {"domain": [3812.49, 4139.243], "nice": false, "zero": false}, "axis": {"orient": "right", "title": null, "format": ".2f"}}
      }
    },
    {
      "data": {"name": "headerBoxes"},
      "mark": {"type": "rect"},
      "encoding": {
        "x": {"field": "a", "type": "quantitative", "scale": {"domain": [-1.5, 266.75], "nice": false, "zero": false}, "axis": null},
        "x2": {"field": "b"},
        "y": {"datum": 4139.243, "type": "quantitative", "scale": {"domain": [3812.49, 4139.243], "nice": false, "zero": false}, "axis": {"orient": "right", "title": null, "format": ".2f"}},
        "y2": {"datum": 4135.5},
        "color": {"field": "kind", "type": "nominal", "scale": {"domain": ["last", "chg", "dchg"], "range": ["#000000", "#00c000", "#ff0000"]}, "legend": null}
      }
    },
    {
      "data": {"name": "header"},
      "mark": {"type": "text", "align": "left", "baseline": "middle", "font": "Open Sans", "fontSize": 10.8, "clip": true},
      "encoding": {
        "x": {"field": "pos", "type": "quantitative", "scale": {"domain": [-1.5, 266.75], "nice": false, "zero": false}, "axis": null},
        "y": {"datum": 4137.3, "type": "quantitative", "scale": {"domain": [3812.49, 4139.243], "nice": false, "zero": false}, "axis": {"orient": "right", "title": null, "format": ".2f"}},
        "text": {"field": "label"},
        "color": {"condition": {"test": "datum.kind == 'plain'", "value": "#000000"}, "value": "#f0f0f0"}
      }
    },
    {
      "data": {"values": [{}]},
      "mark": {"type": "rule", "color": "#ffffff", "strokeWidth": 1},
      "encoding": {
        "x": {"datum": -1.5, "type": "quantitative", "scale": {"domain": [-1.5, 266.75], "nice": false, "zero": false}, "axis": null},
        "x2": {"datum": 266.75},
        "y": {"datum": 3817.49, "type": "quantitative", "scale": {"domain": [3812.49, 4139.243], "nice": false, "zero": false}, "axis": {"orient": "right", "title": null, "format": ".2f"}}
      }
    },
    {
      "data": {"name": "timeLabels"},
      "transform": [{"filter": "datum.kind == 'time'"}],
      "mark": {"type": "rule", "color": "#ffffff", "strokeWidth": 1},
      "encoding": {
        "x": {"field": "pos", "type": "quantitative", "scale": {"domain": [-1.5, 266.75], "nice": false, "zero": false}, "axis": null},
        "y": {"datum": 3817.49, "type": "quantitative", "scale": {"domain": [3812.49, 4139.243], "nice": false, "zero": false}, "axis": {"orient": "right", "title": null, "format": ".2f"}},
        "y2": {"datum": 3818.4}
      }
    },
    {
      "data": {"name": "timeBoxes"},
      "mark": {"type": "rect"},
      "encoding": {
        "x": {"field": "a", "type": "quantitative", "scale": {"domain": [-1.5, 266.75], "nice": false, "zero": false}, "axis": null},
        "x2": {"field": "b"},
        "y": {"datum": 3816.74, "type": "quantitative", "scale": {"domain": [3812.49, 4139.243], "nice": false, "zero": false}, "axis": {"orient": "right", "title": null, "format": ".2f"}},
        "y2": {"datum": 3812.49},
        "color": {"field": "kind", "type": "nominal", "scale": {"domain": ["day", "status"], "range": ["#000000", "#00c000"]}, "legend": null}
      }
    },
    {
      "data": {"name": "timeLabels"},
      "mark": {"type": "text", "align": "center", "baseline": "middle", "font": "Open Sans", "fontSize": 10.5},
      "encoding": {
        "x": {"field": "pos", "type": "quantitative", "scale": {"domain": [-1.5, 266.75], "nice": false, "zero": false}, "axis": null},
        "y": {"datum": 3814.6, "type": "quantitative", "scale": {"domain": [3812.49, 4139.243], "nice": false, "zero": false}, "axis": {"orient": "right", "title": null, "format": ".2f"}},
        "text": {"field": "label"},
        "color": {"condition": {"test": "datum.kind == 'day'", "value": "#e6e6e6"}, "value": "#000000"}
      }
    },
    {
      "data": {"values": [{"v": 3975.96, "label": "3975.96"}]},
      "mark": {"type": "text", "align": "left", "baseline": "middle", "font": "Open Sans", "fontSize": 10.5, "color": "#ff8000"},
      "encoding": {
        "x": {"datum": 268, "type": "quantitative", "scale": {"domain": [-1.5, 266.75], "nice": false, "zero": false}, "axis": null},
        "y": {"field": "v", "type": "quantitative", "scale": {"domain": [3812.49, 4139.243], "nice": false, "zero": false}, "axis": {"orient": "right", "title": null, "format": ".2f"}},
        "text": {"field": "label"}
      }
    },
    {
      "data": {"values": [{"top": 3975.9, "bottom": 3972.1}]},
      "mark": {"type": "rect", "color": "#ffffff"},
      "encoding": {
        "x": {"datum": 267.25, "type": "quantitative", "scale": {"domain": [-1.5, 266.75], "nice": false, "zero": false}, "axis": null},
        "x2": {"datum": 278.25},
        "y": {"field": "top", "type": "quantitative", "scale": {"domain": [3812.49, 4139.243], "nice": false, "zero": false}, "axis": {"orient": "right", "title": null, "format": ".2f"}},
        "y2": {"field": "bottom"}
      }
    },
    {
      "data": {"values": [{"v": 3974, "label": "3974.00"}]},
      "mark": {"type": "text", "align": "left", "baseline": "middle", "font": "Open Sans", "fontSize": 10.5, "color": "#000000"},
      "encoding": {
        "x": {"datum": 268, "type": "quantitative", "scale": {"domain": [-1.5, 266.75], "nice": false, "zero": false}, "axis": null},
        "y": {"field": "v", "type": "quantitative", "scale": {"domain": [3812.49, 4139.243], "nice": false, "zero": false}, "axis": {"orient": "right", "title": null, "format": ".2f"}},
        "text": {"field": "label"}
      }
    }
  ]
}
